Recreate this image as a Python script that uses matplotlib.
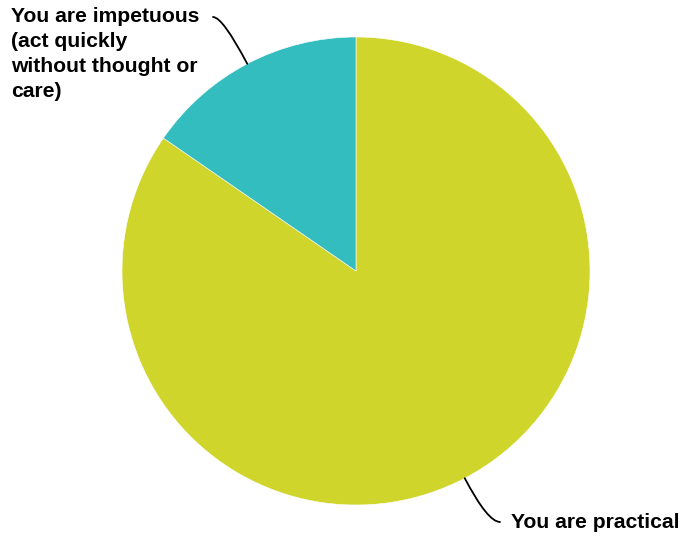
import numpy as np
import matplotlib.pyplot as plt

labels = ["You are practical", "You are impetuous\n(act quickly\nwithout thought or\ncare)"]
counts = [11, 2]
colors = ["#CFD52A", "#34BDBF"]

W, H = 681, 539
fig = plt.figure(figsize=(W / 100, H / 100), dpi=100)
ax = fig.add_axes([0, 0, 1, 1])

cx, cy, r = 356, H - 271, 234
wedges, _ = ax.pie(counts, colors=colors, startangle=90, counterclock=False,
                   center=(cx, cy), radius=r,
                   wedgeprops=dict(edgecolor="white", linewidth=0.4))
ax.set_xlim(0, W)
ax.set_ylim(0, H)
ax.set_aspect("equal")
ax.axis("off")

font = dict(family=["Liberation Sans", "DejaVu Sans"], fontweight="bold", fontsize=15.2, color="black")

# label positions (text anchor, end of leader line)
text_pos = [(511, H - 522, "left", "center"), (11, H - 7, "left", "top")]
line_end = [(500, H - 522), (213, H - 17)]

for w, lab, tp, le in zip(wedges, labels, text_pos, line_end):
    mid = np.deg2rad((w.theta1 + w.theta2) / 2)
    px, py = cx + r * np.cos(mid), cy + r * np.sin(mid)
    ang = np.rad2deg(mid)
    ax.annotate("", xy=(px, py), xytext=le,
                arrowprops=dict(arrowstyle="-", color="black", lw=1.3, shrinkA=0, shrinkB=0,
                                connectionstyle=f"angle3,angleA=0,angleB={ang}"))
    ax.text(tp[0], tp[1], lab, ha=tp[2], va=tp[3], linespacing=1.4, **font)

fig.savefig("out.png", dpi=100)
